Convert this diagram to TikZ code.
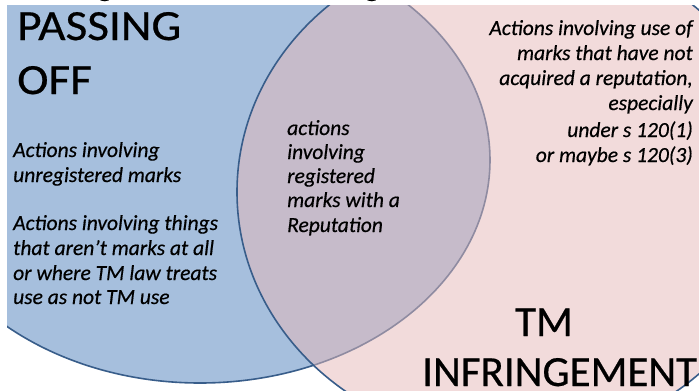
\documentclass[tikz,border=0pt]{standalone}
\usepackage{fontspec}
\setmainfont{Carlito}[FakeBold=0.5]
\definecolor{setblue}{HTML}{4F81BD}
\definecolor{setpink}{HTML}{E6B9B8}
\definecolor{edgeblue}{HTML}{385D8A}
\newcommand{\widehead}[1]{\scalebox{1.1}[1]{#1}}
\begin{document}
\begin{tikzpicture}[x=1pt,y=-1pt,
  heading/.style={font=\fontsize{43}{50}\selectfont, inner sep=0pt, text=black},
  note/.style={font=\fontsize{21.5}{25}\selectfont\itshape, inner sep=0pt, text=black},
  setedge/.style={draw=edgeblue, line width=1.6pt}]
\useasboundingbox (0,0) rectangle (699,391);
\fill[white] (0,0) rectangle (699,391);
\clip (0,0) rectangle (699,391);

% tails of the title line above the slide
\node[font=\fontsize{30}{36}\selectfont\bfseries, inner sep=0pt, anchor=base] (t1) at (105,-4) {g};
\node[font=\fontsize{30}{36}\selectfont\bfseries, inner sep=0pt, anchor=base] (t2) at (372,-4) {g};

% the two overlapping sets
\begin{scope}
  \clip (7,5) rectangle (699,391);
  \filldraw[fill=setblue, fill opacity=0.5, setedge] (200,160) ellipse [x radius=290pt, y radius=223pt];
  \filldraw[fill=setpink, fill opacity=0.5, setedge] (511,192) ellipse [x radius=274pt, y radius=250pt];
\end{scope}

% set titles
\node[heading, anchor=base west] (po1) at (17,40) {\widehead{PASSING}};
\node[heading, anchor=base west] (po2) at (17,94) {\widehead{OFF}};
\node[heading, anchor=base] (tm1) at (544,336) {TM};
\node[heading, anchor=base west] (tm2) at (422,386) {INFRINGEMENT};

% passing off only
\node[note, anchor=base west] (l1) at (13,157) {Actions involving};
\node[note, anchor=base west] (l2) at (13,182) {unregistered marks};
\node[note, anchor=base west] (l3) at (13,230) {Actions involving things};
\node[note, anchor=base west] (l4) at (13,255) {that aren’t marks at all};
\node[note, anchor=base west] (l5) at (13,280) {or where TM law treats};
\node[note, anchor=base west] (l6) at (13,304) {use as not TM use};

% overlap
\node[note, anchor=base west] (c1) at (287,135) {actions};
\node[note, anchor=base west] (c2) at (287,159) {involving};
\node[note, anchor=base west] (c3) at (287,183) {registered};
\node[note, anchor=base west] (c4) at (287,207) {marks with a};
\node[note, anchor=base west] (c5) at (287,232) {Reputation};

% infringement only
\node[note, anchor=base east] (r1) at (693,35) {Actions involving use of};
\node[note, anchor=base east] (r2) at (693,60) {marks that have not};
\node[note, anchor=base east] (r3) at (693,85) {acquired a reputation,};
\node[note, anchor=base east] (r4) at (693,110) {especially};
\node[note, anchor=base east] (r5) at (693,137) {under s 120(1)};
\node[note, anchor=base east] (r6) at (693,162) {or maybe s 120(3)};
\end{tikzpicture}
\end{document}
